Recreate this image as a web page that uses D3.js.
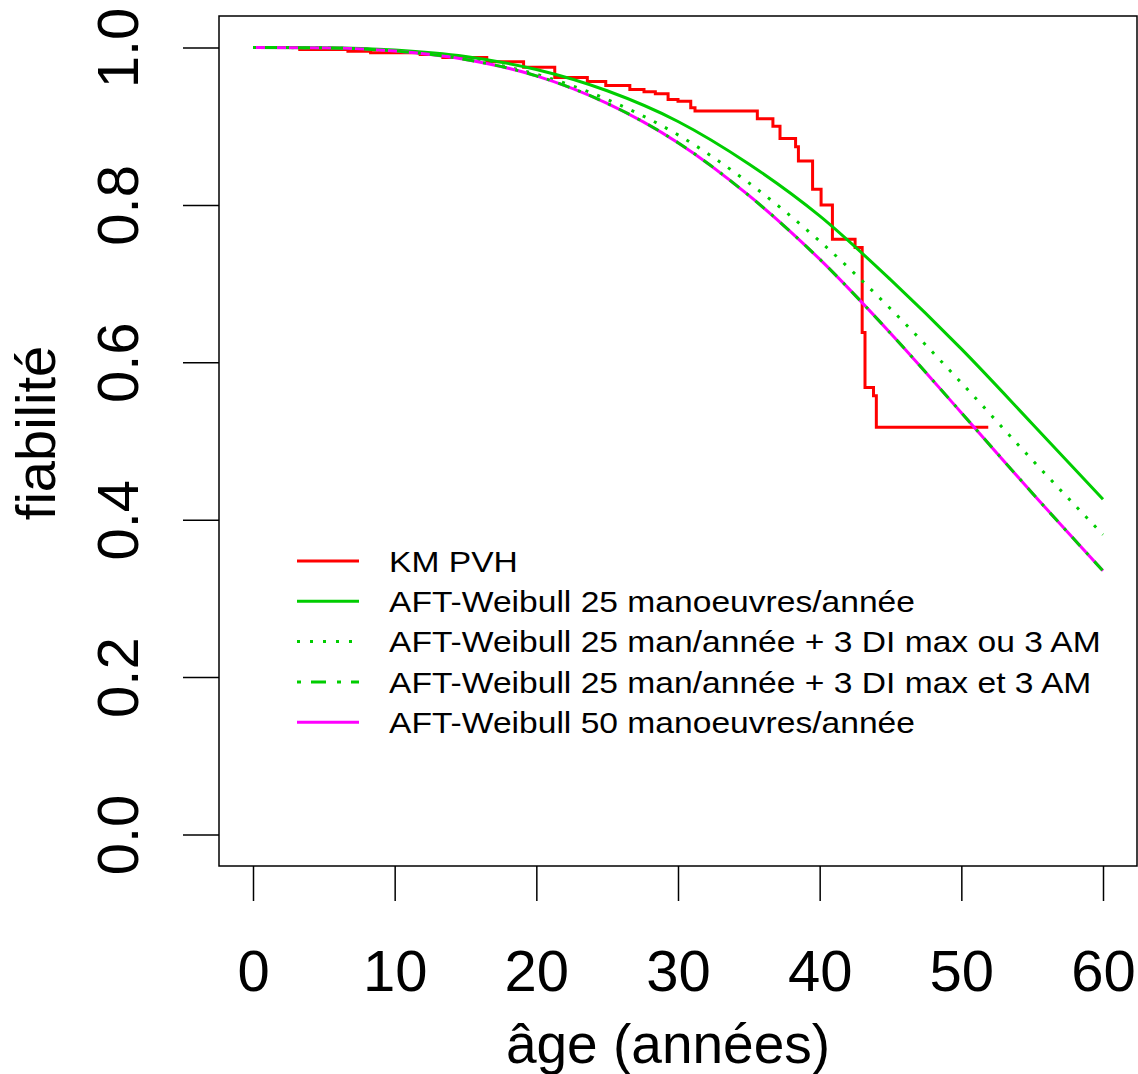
<!DOCTYPE html>
<html>
<head>
<meta charset="utf-8">
<script src="https://cdn.jsdelivr.net/npm/d3@7"></script>
<style>
  body { margin: 0; background: #fff; }
  text { font-family: "Liberation Sans", Arial, sans-serif; fill: #000; }
</style>
</head>
<body>
<div id="chart"></div>
<script>
// Kaplan-Meier steps (age, survival after step)
const kmTimes = [0, 3.3, 6.7, 8.3, 11.8, 13.4, 16.5, 19.1, 21.3, 23.6, 24.9, 26.6, 27.6, 28.4, 29.3, 30.0, 30.9, 31.2, 35.6, 36.7, 37.2, 38.3, 38.5, 39.5, 40.1, 40.9, 42.5, 43.0, 43.2, 43.8, 44.0, 51.9];
const kmSurv  = [1, 0.9975, 0.9953, 0.9933, 0.9911, 0.9873, 0.982, 0.975, 0.962, 0.9569, 0.9518, 0.9467, 0.9438, 0.9412, 0.934, 0.9318, 0.9235, 0.9192, 0.9096, 0.900, 0.8845, 0.874, 0.8557, 0.8198, 0.800, 0.7563, 0.7458, 0.638, 0.568, 0.5575, 0.5174, 0.5174];

// AFT-Weibull curves read at these ages
const ages    = [0, 5, 10, 15, 20, 25, 30, 35, 40, 45, 50, 55, 60];
const aft25   = [1, 0.9996, 0.9967, 0.9885, 0.972, 0.945, 0.906, 0.852, 0.786, 0.705, 0.617, 0.522, 0.426];
const aft25ou = [1, 0.9995, 0.9958, 0.9856, 0.966, 0.934, 0.889, 0.828, 0.754, 0.668, 0.574, 0.476, 0.381];
const aft25et = [1, 0.9995, 0.9956, 0.9848, 0.964, 0.929, 0.879, 0.812, 0.731, 0.637, 0.536, 0.434, 0.335];
const aft50   = [1, 0.9995, 0.9956, 0.9848, 0.964, 0.929, 0.879, 0.812, 0.731, 0.637, 0.536, 0.434, 0.335];

const xTicks = [0, 10, 20, 30, 40, 50, 60];
const yTicks = [0, 0.2, 0.4, 0.6, 0.8, 1.0];

const legendLabels = [
  "KM PVH",
  "AFT-Weibull 25 manoeuvres/année",
  "AFT-Weibull 25 man/année + 3 DI max ou 3 AM",
  "AFT-Weibull 25 man/année + 3 DI max et 3 AM",
  "AFT-Weibull 50 manoeuvres/année"
];
const legendColors = ["#ff0000", "#00cd00", "#00cd00", "#00cd00", "#ff00ff"];
const legendDash = [null, null, "3,10", "4,10,15,11", null];

const W = 1138, H = 1074;
const box = {left: 219, right: 1137, top: 16, bottom: 866};

const svg = d3.select("#chart").append("svg")
  .attr("width", W).attr("height", H);

const x = d3.scaleLinear().domain([-2.4, 62.4]).range([box.left, box.right]);
const y = d3.scaleLinear().domain([-0.04, 1.04]).range([box.bottom, box.top]);

// curves
const smooth = vals => d3.line()
  .x((d, i) => x(ages[i]))
  .y(d => y(d))
  .curve(d3.curveMonotoneX)(vals);

const km = d3.line()
  .x((d, i) => x(kmTimes[i]))
  .y(d => y(d))
  .curve(d3.curveStepAfter);

const plot = svg.append("g");
plot.append("path").attr("d", km(kmSurv))
  .attr("fill", "none").attr("stroke", "#ff0000").attr("stroke-width", 3);
plot.append("path").attr("d", smooth(aft25))
  .attr("fill", "none").attr("stroke", "#00cd00").attr("stroke-width", 3);
plot.append("path").attr("d", smooth(aft25ou))
  .attr("fill", "none").attr("stroke", "#00cd00").attr("stroke-width", 3)
  .attr("stroke-dasharray", "3,9.5");
plot.append("path").attr("d", smooth(aft50))
  .attr("fill", "none").attr("stroke", "#ff00ff").attr("stroke-width", 3);
plot.append("path").attr("d", smooth(aft25et))
  .attr("fill", "none").attr("stroke", "#00cd00").attr("stroke-width", 3)
  .attr("stroke-dasharray", "3,9,12,9");

// box
svg.append("rect")
  .attr("x", box.left).attr("y", box.top)
  .attr("width", box.right - box.left).attr("height", box.bottom - box.top)
  .attr("fill", "none").attr("stroke", "#000").attr("stroke-width", 1.5);

// x axis
const xAxis = svg.append("g")
  .attr("transform", `translate(0,${box.bottom})`)
  .call(d3.axisBottom(x).tickValues(xTicks).tickSize(35).tickSizeOuter(0).tickPadding(49)
    .tickFormat(d3.format("d")));
xAxis.select(".domain").remove();
xAxis.selectAll("line").attr("stroke", "#000").attr("stroke-width", 1.5);
xAxis.selectAll("text").attr("font-size", 58).attr("fill", "#000")
  .style("font-family", '"Liberation Sans", Arial, sans-serif');

// y axis
const yAxis = svg.append("g")
  .attr("transform", `translate(${box.left},0)`)
  .call(d3.axisLeft(y).tickValues(yTicks).tickSize(36).tickSizeOuter(0)
    .tickFormat(d3.format(".1f")));
yAxis.select(".domain").remove();
yAxis.selectAll("line").attr("stroke", "#000").attr("stroke-width", 1.5);
yAxis.selectAll("text")
  .attr("x", null).attr("dy", null)
  .attr("text-anchor", "middle")
  .attr("transform", "translate(-81,0) rotate(-90)")
  .attr("font-size", 58).attr("fill", "#000")
  .style("font-family", '"Liberation Sans", Arial, sans-serif');

// axis titles
svg.append("text")
  .attr("x", 668).attr("y", 1063)
  .attr("text-anchor", "middle").attr("font-size", 55)
  .text("âge (années)");
svg.append("text")
  .attr("transform", "translate(55,433) rotate(-90)")
  .attr("text-anchor", "middle").attr("font-size", 56)
  .text("fiabilité");

// legend
const legend = svg.append("g");
legendLabels.forEach((lab, i) => {
  const ly = 561 + i * 40.3;
  legend.append("line")
    .attr("x1", 297).attr("x2", 359).attr("y1", ly).attr("y2", ly)
    .attr("stroke", legendColors[i]).attr("stroke-width", 3)
    .attr("stroke-dasharray", legendDash[i]);
  legend.append("text")
    .attr("transform", `translate(389,${ly}) scale(1.12,1)`)
    .attr("dy", "0.36em")
    .attr("font-size", 30)
    .text(lab);
});
</script>
</body>
</html>
